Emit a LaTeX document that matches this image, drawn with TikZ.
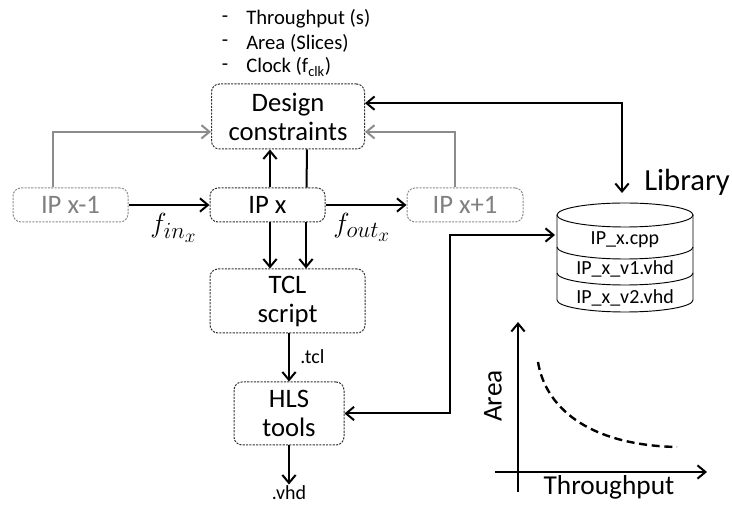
\documentclass[tikz,border=0pt]{standalone}
\usepackage{fontspec}
\setmainfont{Carlito}
\DeclareMathSizes{22}{22}{19}{14}
\usetikzlibrary{arrows.meta,calc}
\begin{document}
\begin{tikzpicture}[x=0.75pt,y=-0.75pt,
  box/.style={draw=black!80, dash pattern=on 1.6pt off 0.9pt, line width=0.75pt, rounded corners=6pt,
     inner sep=0pt, align=center, font=\fontsize{20}{21.75}\selectfont},
  gbox/.style={box, draw=black!45, text=black!50},
  arr/.style={line width=1.5pt, -{Straight Barb[length=6pt,width=10pt]}},
  darr/.style={line width=1.5pt, {Straight Barb[length=6pt,width=10pt]}-{Straight Barb[length=6pt,width=10pt]}},
  garr/.style={line width=1.5pt, draw=black!45, -{Straight Barb[length=6pt,width=10pt]}},
  plain/.style={line width=1.5pt},
  lbl/.style={inner sep=0pt, font=\fontsize{15.5}{18}\selectfont},
  libtxt/.style={inner sep=0pt, font=\fontsize{15}{18}\selectfont},
  mathlbl/.style={inner sep=0pt, font=\fontsize{22}{24}\selectfont},
  ]
\useasboundingbox (0,0) rectangle (732,505);

% bullets
\node[lbl] (d1) at (225,19) {-};
\node[lbl] (d2) at (225,43) {-};
\node[lbl] (d3) at (225,67) {-};
\node[lbl, anchor=west] (b1) at (246,19) {Throughput (s)};
\node[lbl, anchor=west] (b2) at (246,43) {Area (Slices)};
\node[lbl, anchor=west] (b3) at (246,67) {Clock (f\textsubscript{clk})};

% boxes
\node[box, minimum width=114.75pt, minimum height=48.75pt] (dc) at (288,116.5) {Design\\constraints};
\node[box, minimum width=86.25pt, minimum height=25.5pt] (ipx) at (267.5,205) {IP x};
\node[gbox, minimum width=86.25pt, minimum height=25.5pt] (ipm) at (70.5,205) {IP x-1};
\node[gbox, minimum width=87pt, minimum height=25.5pt] (ipp) at (465,205) {IP x+1};
\node[box, minimum width=116.25pt, minimum height=48pt] (tcl) at (287.5,301) {TCL\\script};
\node[box, minimum width=82.5pt, minimum height=47.25pt] (hls) at (289,413.5) {HLS\\tools};

% labels
\node[mathlbl, anchor=base west] (fin) at (150,233) {$f_{in_x}$};
\node[mathlbl, anchor=base west] (fout) at (333,233) {$f_{out_x}$};
\node[libtxt, anchor=west] (tcllbl) at (300,357) {.tcl};
\node[libtxt, anchor=base] (vhd) at (289,500) {.vhd};

% horizontal flow
\draw[arr] (ipm) -- (ipx);
\draw[arr] (ipx) -- (ipp);

% feedback to constraints
\draw[garr] ([xshift=-13.5pt]ipm.north) |- ([yshift=-11.5pt]dc.west);
\draw[garr] ([xshift=-7.5pt]ipp.north) |- ([yshift=-11.5pt]dc.east);
\draw[arr] ([xshift=1.875pt]ipx.north) -- ([xshift=-13.5pt]dc.south);
\draw[plain] ([xshift=29.25pt]ipx.north) -- ([xshift=14.25pt]dc.south);

% down to TCL
\draw[arr] ([xshift=1.875pt]ipx.south) -- ([xshift=-13.125pt]tcl.north);
\draw[arr] ([xshift=28.875pt]ipx.south) -- ([xshift=13.875pt]tcl.north);
\draw[arr] (tcl.south -| hls.north) -- (hls.north);
\draw[arr] (hls.south) -- ([yshift=1pt]vhd.north);

% library cylinder
\coordinate (libtop) at (622,193);
\coordinate (libin) at (555,235);
\coordinate (bend) at (450,235);
\draw[line width=0.7pt] (557,215) -- (557,300)
   arc[start angle=180, end angle=360, x radius=51pt, y radius=9pt] -- (693,215);
\draw[line width=0.7pt] (625,215) ellipse [x radius=51pt, y radius=9pt];
\draw[line width=0.7pt] (557,247) arc[start angle=180, end angle=360, x radius=51pt, y radius=9pt];
\draw[line width=0.7pt] (557,273) arc[start angle=180, end angle=360, x radius=51pt, y radius=9pt];
\node[libtxt] (cpp) at (625,240) {IP\_x.cpp};
\node[libtxt] (v1) at (625,269) {IP\_x\_v1.vhd};
\node[libtxt] (v2) at (625,298) {IP\_x\_v2.vhd};
\node[inner sep=0pt, anchor=west, font=\fontsize{23}{26}\selectfont] (lib) at (644,182) {Library};

\draw[darr] ([yshift=10pt]dc.east) -| (libtop);
\draw[darr] (hls.east) -| (bend) -- (libin);

% graph
\coordinate (ybot) at (518,492);
\coordinate (ytop) at (518,322);
\coordinate (xl) at (495,472);
\coordinate (xr) at (707,472);
\draw[arr] (ybot) -- (ytop);
\draw[arr] (xl) -- (xr);
\node[inner sep=0pt, rotate=90, font=\fontsize{20.5}{24}\selectfont] (area) at (493,396) {Area};
\node[inner sep=0pt, font=\fontsize{20.5}{24}\selectfont] (thr) at (609,487) {Throughput};
\draw[line width=1.8pt, dash pattern=on 6pt off 3.5pt] (538,362) .. controls (545,405) and (585,445) .. (677,447);
\end{tikzpicture}
\end{document}
